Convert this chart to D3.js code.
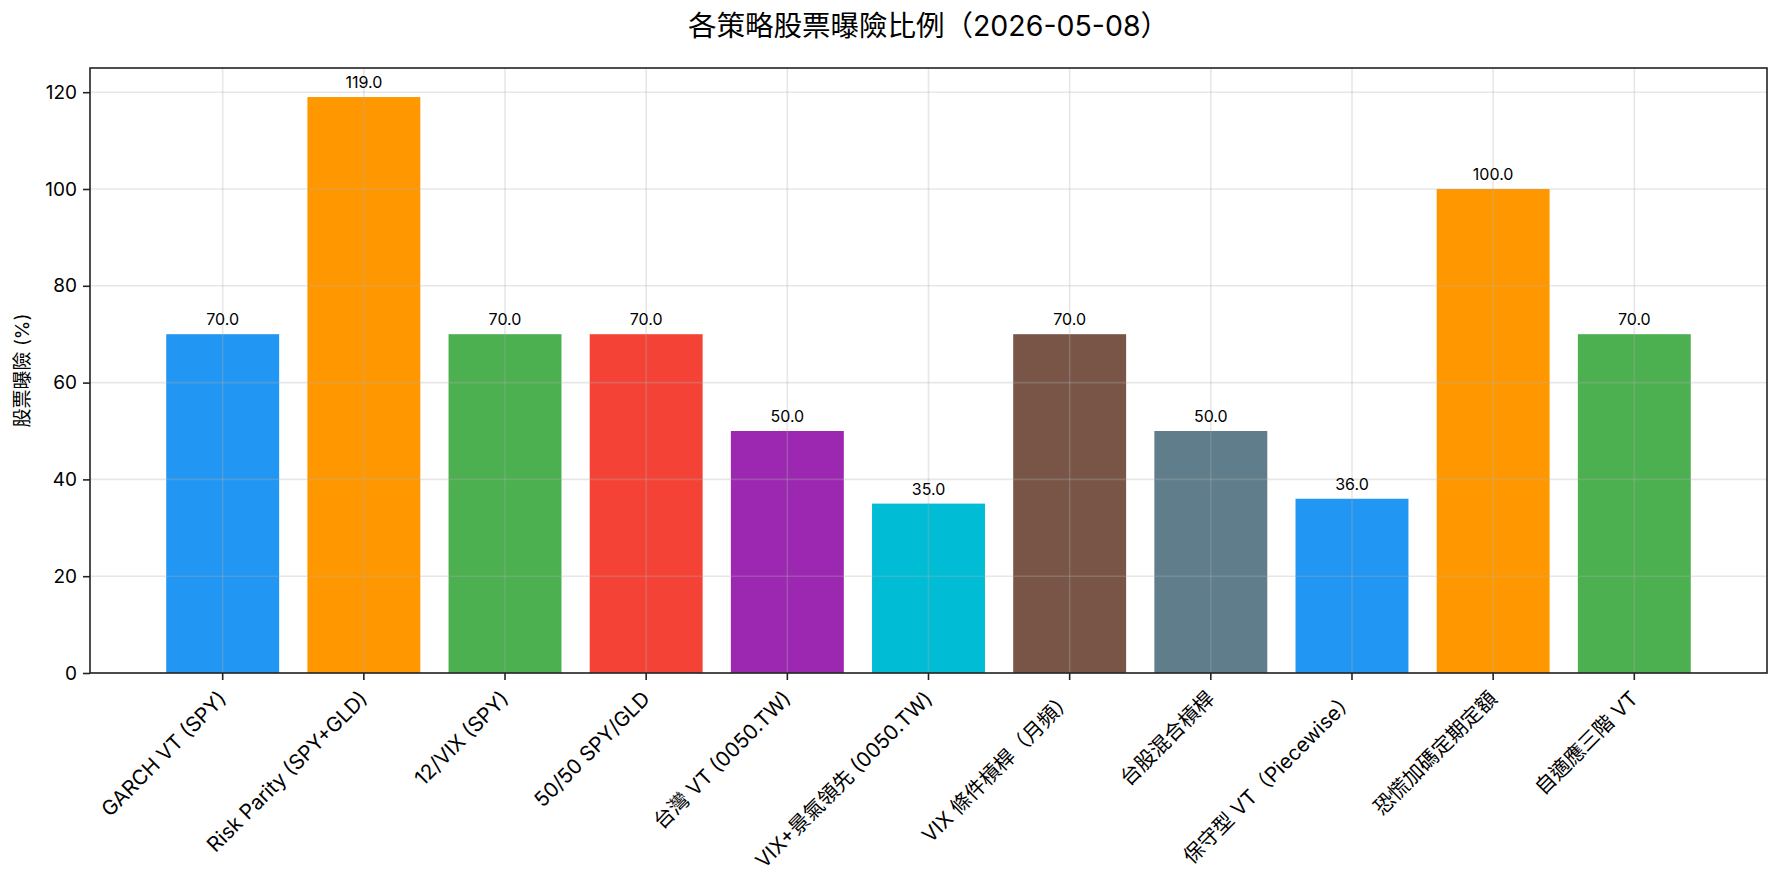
<!DOCTYPE html>
<html>
<head>
<meta charset="utf-8">
<script src="https://cdn.jsdelivr.net/npm/d3@7"></script>
<style>
  body { margin: 0; background: #fff; }
  svg text { font-family: Inter, "Noto Sans CJK TC", sans-serif; fill: #000; }
</style>
</head>
<body>
<div id="chart"></div>
<script>
// 資料
const strategies = ["GARCH VT (SPY)", "Risk Parity (SPY+GLD)", "12/VIX (SPY)", "50/50 SPY/GLD",
  "台灣 VT (0050.TW)", "VIX+景氣領先 (0050.TW)", "VIX 條件槓桿（月頻）", "台股混合槓桿",
  "保守型 VT（Piecewise）", "恐慌加碼定期定額", "自適應三階 VT"];
const exposure = [70, 119, 70, 70, 50, 35, 70, 50, 36, 100, 70];
const barColors = ["#2196F3", "#FF9800", "#4CAF50", "#F44336", "#9C27B0", "#00BCD4",
  "#795548", "#607D8B", "#2196F3", "#FF9800", "#4CAF50"];
const yTicks = [0, 20, 40, 60, 80, 100, 120];

const W = 1782, H = 884;
const margin = { top: 68, right: 15, bottom: 211, left: 90 };
const width = W - margin.left - margin.right;
const height = H - margin.top - margin.bottom;

const svg = d3.select("#chart").append("svg")
  .attr("width", W).attr("height", H);

const g = svg.append("g")
  .attr("transform", `translate(${margin.left},${margin.top})`);

const x = d3.scaleBand().domain(strategies).range([0, width])
  .paddingInner(0.2).paddingOuter(0.54);
const y = d3.scaleLinear().domain([0, 125]).range([height, 0]);

// 長條
g.selectAll("rect.bar")
  .data(strategies)
  .join("rect")
  .attr("class", "bar")
  .attr("x", d => x(d))
  .attr("width", x.bandwidth())
  .attr("y", (d, i) => y(exposure[i]))
  .attr("height", (d, i) => height - y(exposure[i]))
  .attr("fill", (d, i) => barColors[i]);

// 網格線（在長條之上）
const grid = g.append("g").attr("stroke", "#b0b0b0").attr("stroke-opacity", 0.3).attr("stroke-width", 1.6);
grid.selectAll("line.gy").data(yTicks).join("line")
  .attr("x1", 0).attr("x2", width)
  .attr("y1", d => y(d)).attr("y2", d => y(d));
grid.selectAll("line.gx").data(strategies).join("line")
  .attr("y1", 0).attr("y2", height)
  .attr("x1", d => x(d) + x.bandwidth() / 2).attr("x2", d => x(d) + x.bandwidth() / 2);

// 數值標籤
g.selectAll("text.val")
  .data(strategies)
  .join("text")
  .attr("class", "val")
  .attr("x", d => x(d) + x.bandwidth() / 2)
  .attr("y", (d, i) => y(exposure[i]) - 9)
  .attr("text-anchor", "middle")
  .style("font-size", "16px")
  .text((d, i) => exposure[i].toFixed(1));

// y 軸
const yAxis = g.append("g")
  .call(d3.axisLeft(y).tickValues(yTicks).tickSize(7).tickPadding(6));
yAxis.selectAll("text").style("font-size", "19px");

// x 軸
const xAxis = g.append("g")
  .attr("transform", `translate(0,${height})`)
  .call(d3.axisBottom(x).tickSize(7).tickPadding(0));
xAxis.selectAll("text")
  .style("font-size", "20.5px")
  .attr("text-anchor", "end")
  .attr("dy", null)
  .attr("y", null)
  .attr("transform", "translate(5,27) rotate(-45)");

g.selectAll(".domain").remove();
g.selectAll(".tick line").attr("stroke", "#222").attr("stroke-width", 1.6);

// 外框
g.append("rect")
  .attr("width", width).attr("height", height)
  .attr("fill", "none").attr("stroke", "#222").attr("stroke-width", 1.6);

// y 軸標籤
svg.append("text")
  .attr("transform", `translate(29,${margin.top + height / 2}) rotate(-90)`)
  .attr("text-anchor", "middle")
  .style("font-size", "19px")
  .text("股票曝險 (%)");

// 標題
svg.append("text")
  .attr("x", margin.left + width / 2)
  .attr("y", 36)
  .attr("text-anchor", "middle")
  .style("font-size", "28.5px")
  .text("各策略股票曝險比例（2026-05-08）");
</script>
</body>
</html>
